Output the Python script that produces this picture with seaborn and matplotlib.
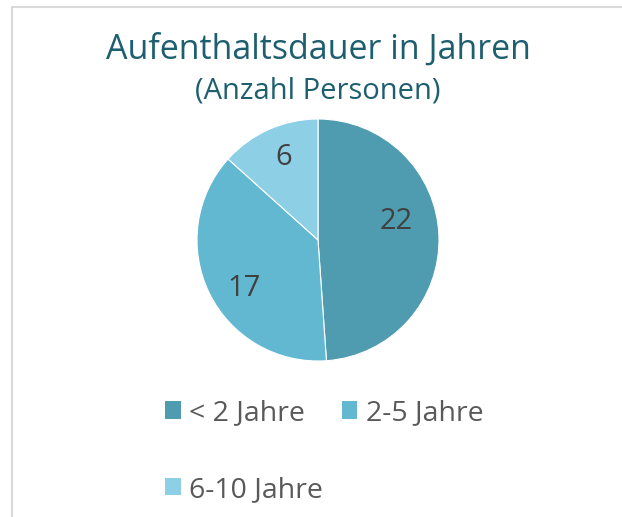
import matplotlib
matplotlib.use("Agg")
import matplotlib.pyplot as plt
import seaborn as sns
from matplotlib.patches import Patch
from matplotlib.lines import Line2D

categories = ["< 2 Jahre", "2-5 Jahre", "6-10 Jahre"]
values = [22, 17, 6]
colors = ["#4F9CB0", "#62B8D1", "#8DD0E6"]
title = "Aufenthaltsdauer in Jahren"
subtitle = "(Anzahl Personen)"

sns.set_theme(style="white")
plt.rcParams['font.family'] = ['Open Sans', 'DejaVu Sans']

W, H = 622, 517
fig = plt.figure(figsize=(W / 100, H / 100), dpi=100)
fig.patch.set_facecolor("white")

cx, cy, r = 318, 240, 121
ax = fig.add_axes([(cx - r) / W, (H - cy - r) / H, 2 * r / W, 2 * r / H])
wedges, texts = ax.pie(values, colors=colors, startangle=90, counterclock=False,
                       labels=[str(v) for v in values], labeldistance=0.7,
                       wedgeprops=dict(edgecolor="white", linewidth=0.8),
                       textprops=dict(fontsize=21, color="#404040"))
for t in texts:
    t.set_ha("center")
    t.set_va("center")
# Excel-style label nudges
nudges = [(-0.05, 0.13), (0.02, -0.09), (0.0, 0.04)]
for t, (dx, dy) in zip(texts, nudges):
    x, y = t.get_position()
    t.set_position((x + dx, y + dy))
ax.set_xlim(-1, 1)
ax.set_ylim(-1, 1)
ax.set_aspect("auto")
ax.axis("off")

fig.text(cx / W, 1 - 50 / H, title, ha="center", va="center", fontsize=24.5, color="#1E5F6F")
fig.text(cx / W, 1 - 91 / H, subtitle, ha="center", va="center", fontsize=21, color="#1E5F6F")

handles = [Patch(facecolor=c, edgecolor="none") for c in colors]
order = [0, 2, 1]  # row-wise fill for 2 columns
leg = fig.legend([handles[i] for i in order], [categories[i] for i in order],
                 ncol=2, loc="upper left",
                 bbox_to_anchor=(165 / W, 1 - 399 / H), frameon=False,
                 fontsize=20.5, labelcolor="#595959",
                 handlelength=0.55, handleheight=0.55, handletextpad=0.3,
                 columnspacing=0.65, labelspacing=1.72, borderaxespad=0, borderpad=0)

fig.add_artist(Line2D([11.5 / W, 11.5 / W, 1], [0, 1 - 7 / H, 1 - 7 / H],
                      transform=fig.transFigure, color="#D9D9D9", linewidth=1.5))

fig.savefig("out.png", dpi=100)
